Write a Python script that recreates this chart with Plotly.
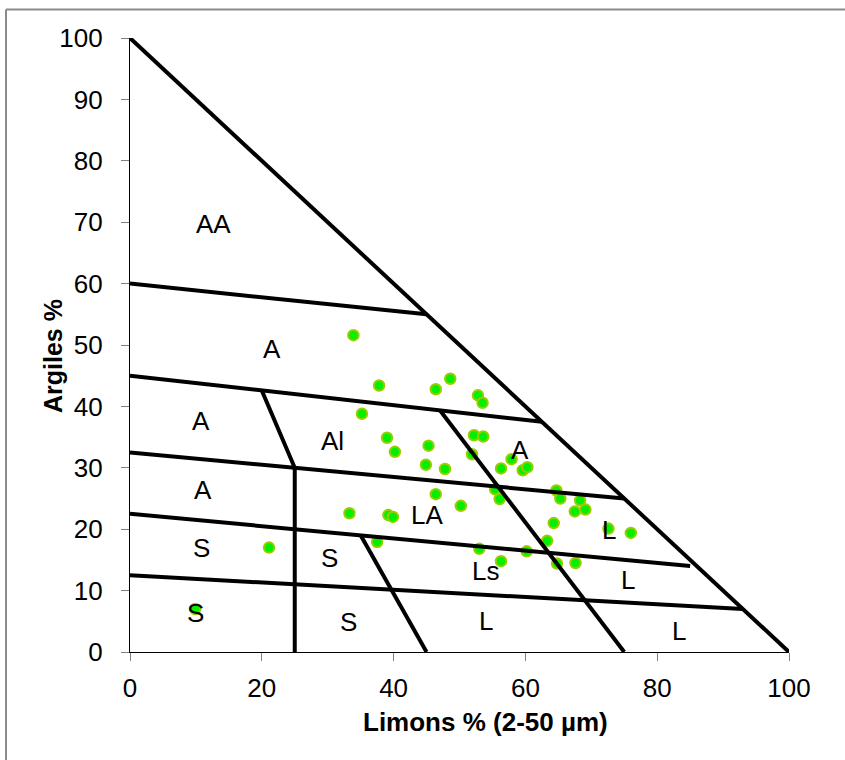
import plotly.graph_objects as go

# Sample measurements: silt (Limons, 2-50 µm) and clay (Argiles) percentages
limons = [33.9, 37.8, 46.4, 48.6, 52.8, 53.5, 35.2, 39.0, 40.2, 45.3,
          52.2, 53.6, 44.9, 47.8, 51.9, 56.3, 57.9, 59.6, 60.3, 46.4,
          50.2, 33.3, 39.2, 39.9, 37.5, 21.1, 55.4, 56.1, 64.7, 65.3,
          64.3, 63.3, 68.3, 67.5, 69.1, 72.6, 76.0, 53.0, 60.2, 56.3,
          64.8, 67.6, 9.9]
argiles = [51.6, 43.4, 42.8, 44.5, 41.8, 40.6, 38.8, 34.9, 32.6, 33.6,
           35.3, 35.1, 30.5, 29.8, 32.2, 29.9, 31.4, 29.6, 30.1, 25.7,
           23.8, 22.6, 22.3, 22.0, 17.9, 17.0, 26.5, 24.9, 26.3, 25.0,
           21.0, 18.1, 24.7, 22.9, 23.2, 20.1, 19.4, 16.8, 16.4, 14.8,
           14.4, 14.5, 7.0]

# Texture class boundaries (silt %, clay %) polylines
boundaries = [
    ([0, 100], [100, 0]),
    ([0, 45], [60, 55]),
    ([0, 62.5], [45, 37.5]),
    ([0, 75], [32.5, 25]),
    ([0, 85], [22.5, 14]),
    ([0, 93], [12.5, 7]),
    ([20, 25, 25], [42.6, 30, 0]),
    ([35, 45], [19, 0]),
    ([47, 75], [39.4, 0]),
]

# Texture class names and where they sit
class_names = ["AA", "A", "A", "Al", "A", "A", "LA", "L",
               "S", "S", "Ls", "L", "S", "S", "L", "L"]
class_x = [12.7, 21.5, 10.8, 30.7, 11.1, 59.2, 45.1, 72.7,
           10.8, 30.2, 53.9, 75.6, 10.0, 33.1, 54.0, 83.3]
class_y = [69.7, 49.3, 37.6, 34.4, 26.4, 32.9, 22.3, 19.9,
           16.9, 15.3, 13.2, 11.7, 6.4, 4.9, 5.0, 3.4]

x_ticks = [0, 20, 40, 60, 80, 100]
y_ticks = [0, 10, 20, 30, 40, 50, 60, 70, 80, 90, 100]

x_title = "Limons % (2-50 µm)"
y_title = "Argiles %"

FONT = "Liberation Sans, Arial, sans-serif"

# plot area in pixels: x 130..789, y 38..652
L, R, T, B = 130, 56, 38, 108
PW, PH = 845 - L - R, 760 - T - B


def px_x(p):
    return (p - L) / PW


def px_y(p):
    return (760 - B - p) / PH


fig = go.Figure()

fig.add_trace(go.Scatter(
    x=limons, y=argiles, mode="markers",
    marker=dict(size=10.5, color="#00F000",
                line=dict(color="#9ACD00", width=2)),
    showlegend=False, hoverinfo="x+y",
))

for bx, by in boundaries:
    fig.add_trace(go.Scatter(
        x=bx, y=by, mode="lines",
        line=dict(color="black", width=4),
        showlegend=False, hoverinfo="skip",
    ))

for name, cx, cy in zip(class_names, class_x, class_y):
    fig.add_annotation(x=cx, y=cy, text=name, showarrow=False,
                       font=dict(family=FONT, size=26, color="black"),
                       xanchor="center", yanchor="middle")

# Axis titles
fig.add_annotation(xref="paper", yref="paper", x=px_x(485), y=px_y(722),
                   text="<b>%s</b>" % x_title, showarrow=False,
                   xanchor="center", yanchor="middle",
                   font=dict(family=FONT, size=26, color="black"))
fig.add_annotation(xref="paper", yref="paper", x=px_x(53), y=px_y(356),
                   text="<b>%s</b>" % y_title, showarrow=False, textangle=-90,
                   xanchor="center", yanchor="middle",
                   font=dict(family=FONT, size=25, color="black"))

# Outer chart frame
fig.add_shape(type="line", xref="paper", yref="paper",
              x0=px_x(6), x1=1.2, y0=px_y(9.5), y1=px_y(9.5),
              line=dict(color="#8a8a8a", width=2))
fig.add_shape(type="line", xref="paper", yref="paper",
              x0=px_x(6), x1=px_x(6), y0=-0.3, y1=px_y(9.5),
              line=dict(color="#8a8a8a", width=2))

axis_common = dict(
    showgrid=False, zeroline=False,
    showline=True, linecolor="black", linewidth=1.2,
    ticks="outside", ticklen=8, tickcolor="#808080", tickwidth=1,
    tickfont=dict(family=FONT, size=26, color="black"),
    range=[0, 100], fixedrange=True,
)

fig.update_xaxes(**axis_common, tickvals=x_ticks, ticklabelstandoff=5)
fig.update_yaxes(**axis_common, tickvals=y_ticks, ticklabelstandoff=13)

fig.update_layout(
    width=845, height=760,
    margin=dict(l=L, r=R, t=T, b=B, autoexpand=False),
    paper_bgcolor="white", plot_bgcolor="white",
)

fig.write_html("out.html")
